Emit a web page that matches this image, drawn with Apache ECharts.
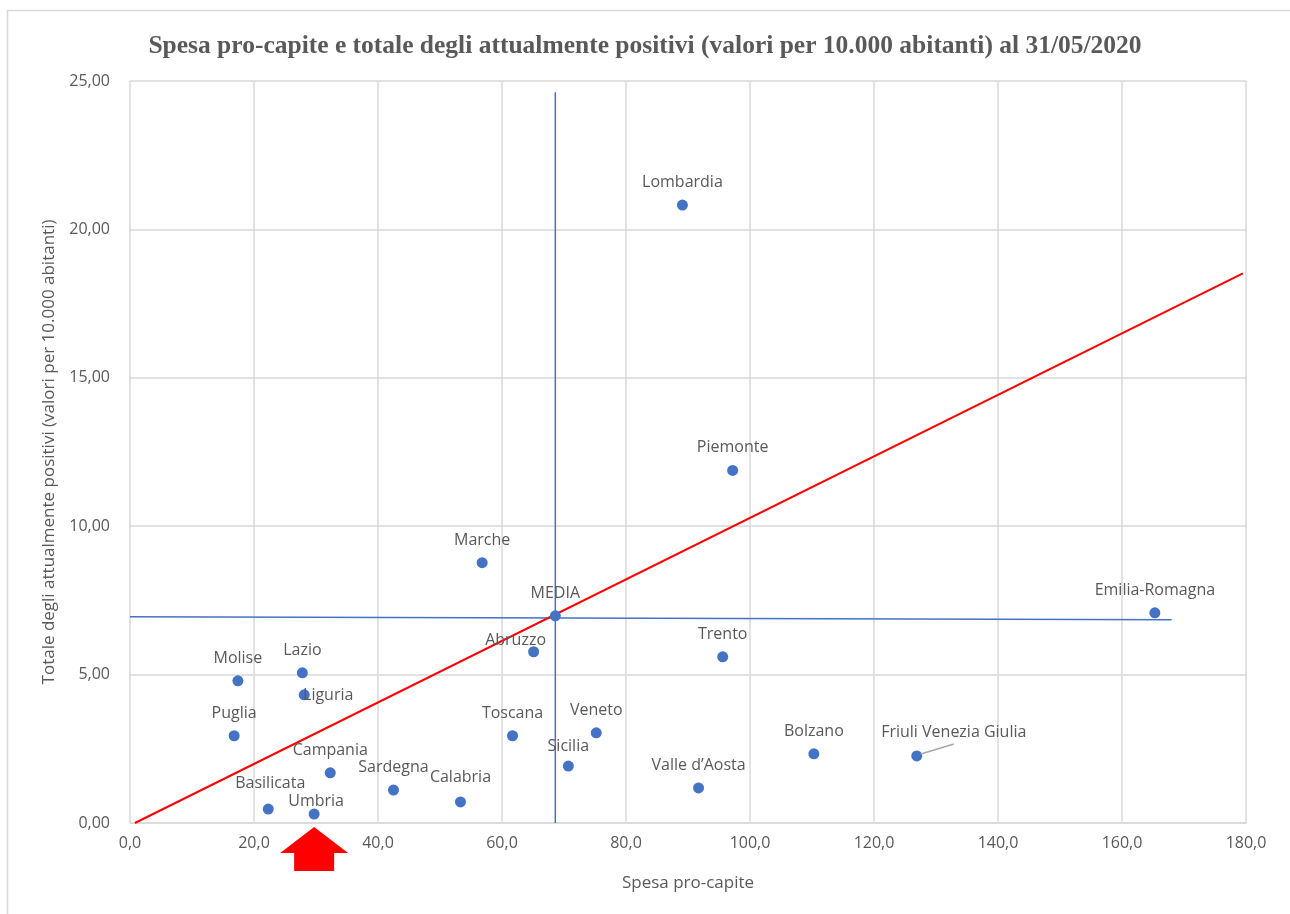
<!DOCTYPE html>
<html><head><meta charset="utf-8">
<script src="https://cdn.jsdelivr.net/npm/echarts@6/dist/echarts.min.js"></script>
<style>html,body{margin:0;padding:0;background:#fff}#c{width:1290px;height:914px}</style>
</head><body><div id="c"></div><script>
// ---- data ----
const regions = ['Lombardia','Piemonte','Marche','MEDIA','Emilia-Romagna','Abruzzo','Trento','Lazio','Molise','Liguria','Puglia','Toscana','Veneto','Sicilia','Bolzano','Friuli Venezia Giulia','Campania','Sardegna','Valle d\u2019Aosta','Calabria','Basilicata','Umbria'];
const spesa    = [89.1, 97.2, 56.8, 68.6, 165.3, 65.1, 95.6, 27.8, 17.4, 28.1, 16.8, 61.7, 75.2, 70.7, 110.3, 126.9, 32.3, 42.5, 91.7, 53.3, 22.3, 29.7];
const positivi = [20.82, 11.88, 8.77, 6.98, 7.08, 5.77, 5.60, 5.06, 4.79, 4.32, 2.94, 2.94, 3.04, 1.92, 2.33, 2.26, 1.69, 1.11, 1.18, 0.71, 0.47, 0.30];
const mediaVertical   = [[68.6, 0], [68.6, 24.62]];
const mediaHorizontal = [[0, 6.95], [168.0, 6.85]];
const trendLine       = [[0.8, 0], [179.5, 18.52]];
const xTicks = {min: 0, max: 180, interval: 20};
const yTicks = {min: 0, max: 25, interval: 5};
const highlighted = 'Umbria';
const leaderLabel = 'Friuli Venezia Giulia';

// ---- styling (not data) ----
const labelShift = {
  'Abruzzo': [-18, 11], 'Liguria': [24, 23], 'Umbria': [2, 10],
  'Calabria': [0, -2], 'Basilicata': [2, -3], 'Friuli Venezia Giulia': [37, -1], 'Sicilia': [0, 3]
};
const txt = '#595959';
const font = 'Open Sans';

const chart = echarts.init(document.getElementById('c'));
const scatterData = regions.map((r, i) => ({name: r, value: [spesa[i], positivi[i]]}));
const fmt = (d) => (v) => v.toFixed(d).replace('.', ',');

chart.setOption({
  animation: false,
  backgroundColor: '#fff',
  title: {
    text: 'Spesa pro-capite e totale degli attualmente positivi (valori per 10.000 abitanti) al 31/05/2020',
    left: 'center', top: 28,
    textStyle: {fontFamily: 'Liberation Serif', fontWeight: 'bold', fontSize: 25.5, color: txt}
  },
  grid: {left: 130, right: 44, top: 81, bottom: 91},
  xAxis: {
    type: 'value', min: xTicks.min, max: xTicks.max, interval: xTicks.interval,
    name: 'Spesa pro-capite', nameLocation: 'middle', nameGap: 52,
    nameTextStyle: {fontFamily: font, fontSize: 17, color: txt},
    axisLine: {show: true, lineStyle: {color: '#d9d9d9', width: 1.5}},
    axisTick: {show: false},
    axisLabel: {formatter: fmt(1), fontFamily: font, fontSize: 16, color: txt, margin: 12},
    splitLine: {show: true, lineStyle: {color: '#d9d9d9', width: 1.5}}
  },
  yAxis: {
    type: 'value', min: yTicks.min, max: yTicks.max, interval: yTicks.interval,
    name: 'Totale degli attualmente positivi (valori per 10.000 abitanti)', nameLocation: 'middle', nameGap: 72,
    nameTextStyle: {fontFamily: font, fontSize: 17, color: txt},
    axisLine: {show: false}, axisTick: {show: false},
    axisLabel: {formatter: fmt(2), fontFamily: font, fontSize: 16, color: txt, margin: 20},
    splitLine: {show: true, lineStyle: {color: '#d9d9d9', width: 1.5}}
  },
  series: [
    {type: 'line', data: mediaVertical, symbol: 'none', lineStyle: {color: '#4472c4', width: 1.5}, z: 2},
    {type: 'line', data: mediaHorizontal, symbol: 'none', lineStyle: {color: '#4472c4', width: 1.5}, z: 2},
    {type: 'line', data: trendLine, symbol: 'none', lineStyle: {color: '#ff0000', width: 2}, z: 3},
    {
      type: 'scatter', data: scatterData, symbolSize: 11, z: 4,
      itemStyle: {color: '#4472c4', opacity: 1},
      label: {show: true, position: 'top', distance: 9, formatter: '{b}', fontFamily: font, fontSize: 16, color: txt},
      labelLayout: (p) => {
        const s = labelShift[regions[p.dataIndex]];
        return s ? {dx: s[0], dy: s[1]} : {};
      }
    }
  ],
  graphic: [{
    type: 'rect', shape: {x: 7.5, y: 10.5, width: 1300, height: 920},
    style: {fill: 'none', stroke: '#d9d9d9', lineWidth: 1.5}, silent: true
  }]
});

// red arrow pointing at highlighted region, below the axis
const hi = regions.indexOf(highlighted);
const p = chart.convertToPixel({gridIndex: 0}, [spesa[hi], 0]);
const tx = p[0], ty = p[1] + 4;
// leader line from the point to its shifted label
const li = regions.indexOf(leaderLabel);
const q = chart.convertToPixel({gridIndex: 0}, [spesa[li], positivi[li]]);
chart.setOption({graphic: [{}, {
  type: 'polygon',
  shape: {points: [[tx, ty], [tx + 34, ty + 26], [tx + 20, ty + 26], [tx + 20, ty + 44], [tx - 20, ty + 44], [tx - 20, ty + 26], [tx - 34, ty + 26]]},
  style: {fill: '#ff0000'}, silent: true
}, {
  type: 'line', shape: {x1: q[0] + 4, y1: q[1] - 2, x2: q[0] + 37, y2: q[1] - 12},
  style: {stroke: '#a6a6a6', lineWidth: 1.5}, silent: true, z: 5
}]});
</script></body></html>
